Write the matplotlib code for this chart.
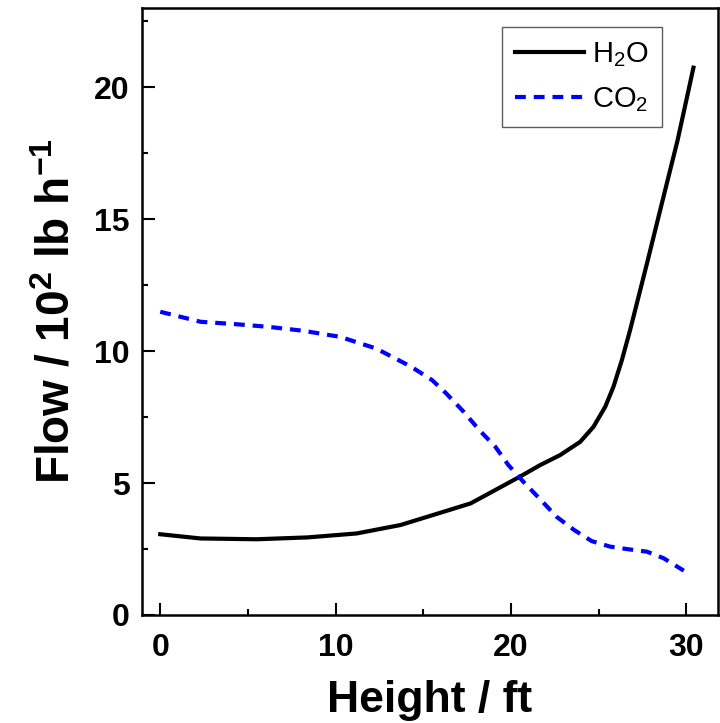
import matplotlib
matplotlib.use("Agg")
import matplotlib.pyplot as plt
from matplotlib.ticker import MultipleLocator

plt.rcParams['font.family'] = ['Liberation Sans', 'DejaVu Sans']
plt.rcParams['mathtext.fontset'] = 'custom'
plt.rcParams['mathtext.rm'] = 'Liberation Sans'
plt.rcParams['mathtext.it'] = 'Liberation Sans:italic'
plt.rcParams['mathtext.bf'] = 'Liberation Sans:bold'

h2o_x = [0, 2.3, 5.5, 8.4, 11.2, 13.7, 16.0, 17.7, 20.5, 21.66, 22.8, 23.94, 24.7,
         25.37, 25.84, 26.32, 26.79, 27.27, 27.75, 28.6, 29.5, 30.4]
h2o_y = [3.06, 2.90, 2.87, 2.94, 3.09, 3.41, 3.88, 4.23, 5.24, 5.68, 6.06, 6.56, 7.13,
         7.89, 8.65, 9.66, 10.8, 12.06, 13.32, 15.6, 18.0, 20.74]

co2_x = [0, 2.3, 4.3, 6.15, 8.15, 10.25, 12.3, 14.3, 15.5, 16.3, 17.3, 18.2, 19.1,
         19.85, 20.7, 21.7, 22.6, 23.6, 24.6, 25.65, 26.7, 27.75, 28.7, 29.85]
co2_y = [11.49, 11.11, 11.02, 10.92, 10.77, 10.54, 10.10, 9.41, 8.9, 8.4, 7.7, 7.0, 6.38,
         5.68, 5.05, 4.36, 3.72, 3.22, 2.80, 2.59, 2.49, 2.40, 2.15, 1.68]

fig = plt.figure(figsize=(7.2, 7.23), dpi=100)
ax = fig.add_axes([142/720, 1-615/723, (718-142)/720, (615-8)/723])

ax.plot(h2o_x, h2o_y, color='black', lw=3, label=r'$\mathregular{H_2O}$')
ax.plot(co2_x, co2_y, color='#0000ff', lw=3, ls=(0, (2.6, 1.9)), label=r'$\mathregular{CO_2}$')

ax.set_xlim(-1.04, 31.8)
ax.set_ylim(0, 23)
ax.xaxis.set_major_locator(MultipleLocator(10))
ax.xaxis.set_minor_locator(MultipleLocator(5))
ax.yaxis.set_major_locator(MultipleLocator(5))
ax.yaxis.set_minor_locator(MultipleLocator(2.5))
ax.tick_params(which='both', direction='in', width=1.5, top=False, right=False)
ax.tick_params(which='major', length=9, labelsize=23)
ax.tick_params(axis='x', which='major', pad=13)
ax.tick_params(axis='y', which='major', pad=9)
ax.tick_params(which='minor', length=4.5)
for lab in ax.get_xticklabels() + ax.get_yticklabels():
    lab.set_fontweight('bold')
for s in ax.spines.values():
    s.set_linewidth(1.8)

ax.set_xlabel('Height / ft', fontsize=32, fontweight='bold', labelpad=12)
ax.set_ylabel(r'Flow / 10$^\mathbf{2}$ lb h$^\mathbf{-1}$', fontsize=33, fontweight='bold', labelpad=10)

leg = ax.legend(loc='upper right', bbox_to_anchor=((662-142)/576, 1-(27-8)/607),
                borderaxespad=0, fontsize=21, frameon=True, fancybox=False,
                edgecolor='#333333', handlelength=2.37, handletextpad=0.27,
                borderpad=0.45, labelspacing=0.55)
leg.get_frame().set_linewidth(1.0)

fig.savefig('out.png', dpi=100)
